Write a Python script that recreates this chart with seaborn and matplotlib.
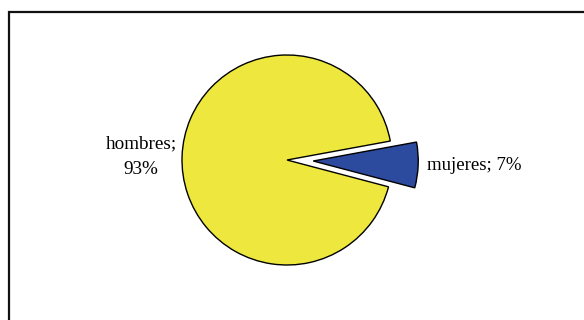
import matplotlib
matplotlib.use("Agg")
import matplotlib.pyplot as plt
import seaborn as sns

# data
categories = ["mujeres", "hombres"]
values = [7, 93]
colors = ["#2C4B9E", "#EEE83E"]

sns.set_theme(style="white")
plt.rcParams["font.family"] = ["Liberation Serif", "DejaVu Serif"]

W, H = 584, 320
fig = plt.figure(figsize=(W / 100, H / 100), dpi=100)
ax = fig.add_axes([0, 0, 1, 1])

# pie centre and radius in pixels
cx, cy, r = 287, 160, 105

ax.pie(
    values,
    colors=colors,
    startangle=-14.8,
    explode=[0.25, 0],
    wedgeprops=dict(edgecolor="black", linewidth=1.0),
    counterclock=True,
)
ax.set_aspect("auto")
ax.set_xlim(-cx / r, (W - cx) / r)
ax.set_ylim(-(H - cy) / r, cy / r)
ax.axis("off")

# labels
ax.text(1.335, -0.05, f"{categories[0]}; {values[0]}%", ha="left", va="center", fontsize=13.5, color="black")
ax.text(-1.39, 0.03, f"{categories[1]};\n{values[1]}%", ha="center", va="center", fontsize=13.8,
        color="black", linespacing=1.7)

# frame around chart area (extends beyond right/bottom)
frame = plt.Rectangle((9 / W, -0.1), 1.2, 1 - 12 / H + 0.1, transform=fig.transFigure,
                      fill=False, edgecolor="#111111", linewidth=1.6, clip_on=False)
fig.patches.append(frame)

fig.savefig("out.png", dpi=100)
